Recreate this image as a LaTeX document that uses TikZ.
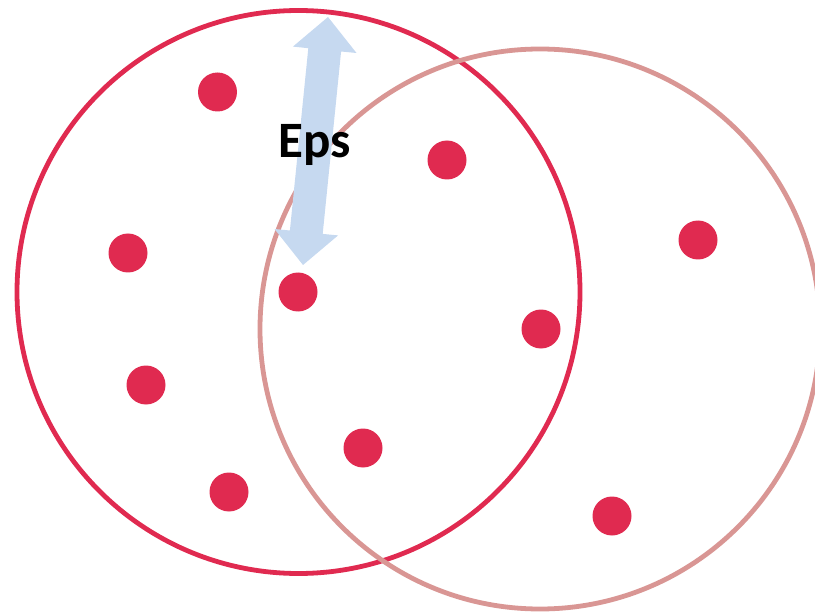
\documentclass[tikz,border=0pt]{standalone}
\usepackage{fontspec}
\setmainfont{Carlito}
\definecolor{dotred}{RGB}{224,42,80}
\definecolor{pinkc}{RGB}{217,150,148}
\definecolor{arrowblue}{RGB}{198,217,240}
\tikzset{
  dot/.style={circle,fill=dotred,inner sep=0pt,minimum size=39pt},
  ring/.style={line width=4.8pt}
}
\begin{document}
\begin{tikzpicture}[x=1pt,y=-1pt]
\useasboundingbox (0,0) rectangle (815,615);
\clip (0,0) rectangle (815,615);
\draw[ring,dotred] (298.5,292) circle[radius=281.5];
\draw[ring,pinkc] (540,329) circle[radius=280];
\fill[arrowblue] (328,17) -- (356.5,53.0) -- (341.1,51.5) -- (322.7,233.9) -- (338.1,235.4)
  -- (303,265) -- (274.5,229.0) -- (289.9,230.5) -- (308.3,48.2) -- (292.9,46.6) -- cycle;
\node[anchor=base,inner sep=0pt,font=\fontsize{51}{60}\selectfont\bfseries] (eps) at (314.5,158) {Eps};
\node[dot] (d1) at (217.5,92) {};
\node[dot] (d2) at (447,160) {};
\node[dot] (d3) at (128,253) {};
\node[dot] (d4) at (698,240) {};
\node[dot] (d5) at (298,292) {};
\node[dot] (d6) at (541,329) {};
\node[dot] (d7) at (146,385) {};
\node[dot] (d8) at (363,448) {};
\node[dot] (d9) at (229,492) {};
\node[dot] (d10) at (612,516) {};
\end{tikzpicture}
\end{document}
